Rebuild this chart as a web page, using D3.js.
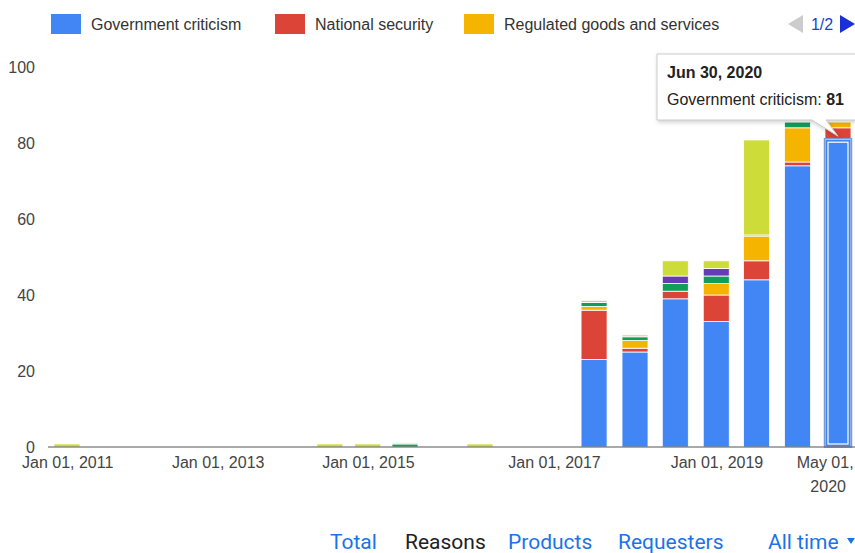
<!DOCTYPE html>
<html>
<head>
<meta charset="utf-8">
<script src="https://cdn.jsdelivr.net/npm/d3@7"></script>
<style>
  body { margin: 0; background: #fff; }
  svg { display: block; font-family: Arial, 'Liberation Sans', sans-serif; }
  .axis text { fill: #444; font-size: 16px; }
  .legend text { fill: #333; font-size: 16px; }
  .nav text { font-family: Roboto, Arial, sans-serif; font-size: 21px; }
</style>
</head>
<body>
<svg id="chart" width="855" height="553"></svg>
<script>
'use strict';

// Half-year reporting periods (end dates)
const periods = [
  '2010-12-31', '2011-06-30', '2011-12-31', '2012-06-30', '2012-12-31',
  '2013-06-30', '2013-12-31', '2014-06-30', '2014-12-31', '2015-06-30',
  '2015-12-31', '2016-06-30', '2016-12-31', '2017-06-30', '2017-12-31',
  '2018-06-30', '2018-12-31', '2019-06-30', '2019-12-31', '2020-06-30'
];

const seriesNames = [
  'Government criticism', 'National security', 'Regulated goods and services',
  'Privacy and security', 'Defamation', 'Other', 'Fraud'
];
const seriesColors = ['#4285F4', '#DB4437', '#F4B400', '#0F9D58', '#673AB7', '#CDDC39', '#D6C7A1'];

const governmentCriticism = [0, 0, 0, 0, 0, 0, 0, 0, 0, 0, 0, 0, 0, 23, 25, 39, 33, 44, 74, 81];
const nationalSecurity    = [0, 0, 0, 0, 0, 0, 0, 0, 0, 0, 0, 0, 0, 13, 1, 2, 7, 5, 1, 3];
const regulatedGoods      = [0, 0, 0, 0, 0, 0, 0, 0, 0, 0, 0, 0, 0, 1, 2, 0, 3, 6.5, 9, 1.5];
const privacySecurity     = [0, 0, 0, 0, 0, 0, 0, 0, 0, 0.8, 0, 0, 0, 1, 1, 2, 2, 0.3, 1.5, 0];
const defamation          = [0, 0, 0, 0, 0, 0, 0, 0, 0, 0, 0, 0, 0, 0, 0, 2, 2, 0, 0, 0];
const other               = [0.8, 0, 0, 0, 0, 0, 0, 0.8, 0.8, 0, 0, 0.8, 0, 0, 0, 4, 2, 25, 0, 0];
const fraud               = [0, 0, 0, 0, 0, 0, 0, 0, 0, 0.3, 0, 0, 0, 0.6, 0.5, 0, 0, 0, 0, 0];

const yTicks = [0, 20, 40, 60, 80, 100];
const xTickDates = ['2011-01-01', '2013-01-01', '2015-01-01', '2017-01-01', '2019-01-01', '2020-05-01'];
const xTickLabels = ['Jan 01, 2011', 'Jan 01, 2013', 'Jan 01, 2015', 'Jan 01, 2017', 'Jan 01, 2019', 'May 01,|2020'];

const navItems = ['Total', 'Reasons', 'Products', 'Requesters', 'All time'];
const selectedIndex = 19;

const parse = d3.utcParse('%Y-%m-%d');
const svg = d3.select('#chart');

const seriesValues = [governmentCriticism, nationalSecurity, regulatedGoods,
  privacySecurity, defamation, other, fraud];

const table = periods.map((p, i) => {
  const row = { date: parse(p), index: i };
  seriesNames.forEach((name, s) => { row[name] = seriesValues[s][i]; });
  return row;
});

// The time axis in the source is not evenly spaced, so use a piecewise domain
const x = d3.scaleUtc()
  .domain([parse('2010-12-31'), parse('2015-06-30'), parse('2016-06-30'),
    parse('2017-01-01'), parse('2020-06-30')])
  .range([67, 405, 480, 554, 838]);

const y = d3.scaleLinear().domain([0, 100]).range([447, 67]);

const barWidth = 26;
const stack = d3.stack().keys(seriesNames);
const stacked = stack(table);

// Bars
const layers = svg.append('g')
  .attr('class', 'bars')
  .selectAll('g')
  .data(stacked)
  .join('g')
    .attr('fill', (d, i) => seriesColors[i]);

layers.selectAll('rect')
  .data(d => d.filter(seg => seg[1] - seg[0] > 0))
  .join('rect')
    .attr('x', d => x(d.data.date) - barWidth / 2)
    .attr('y', d => y(d[1]))
    .attr('width', barWidth)
    .attr('height', d => y(d[0]) - y(d[1]))
    .attr('stroke', '#fff')
    .attr('stroke-width', 0.8);

// Highlight of the hovered bar
const sel = stacked[0][selectedIndex];
const hx = x(sel.data.date) - barWidth / 2;
svg.append('rect')
  .attr('x', hx - 0.5)
  .attr('y', y(sel[1]) - 0.5)
  .attr('width', barWidth + 1)
  .attr('height', y(sel[0]) - y(sel[1]) + 0.5)
  .attr('fill', 'none')
  .attr('stroke', '#7d9bd3')
  .attr('stroke-width', 1.5);
svg.append('rect')
  .attr('x', hx + 3)
  .attr('y', y(sel[1]) + 3)
  .attr('width', barWidth - 6)
  .attr('height', y(sel[0]) - y(sel[1]) - 6)
  .attr('fill', 'none')
  .attr('stroke', '#fff')
  .attr('stroke-width', 1.2);

// Baseline
svg.append('line')
  .attr('x1', 48).attr('x2', 855)
  .attr('y1', y(0)).attr('y2', y(0))
  .attr('stroke', '#555')
  .attr('stroke-width', 1.2);

// Y axis
const yAxis = svg.append('g')
  .attr('class', 'axis')
  .attr('transform', 'translate(38,0)')
  .call(d3.axisLeft(y).tickValues(yTicks).tickSize(0).tickPadding(3));
yAxis.select('.domain').remove();
yAxis.selectAll('text').attr('font-size', 16).attr('font-family', null);

// X axis
const xAxis = svg.append('g')
  .attr('class', 'axis')
  .attr('transform', `translate(0,${y(0)})`)
  .call(d3.axisBottom(x)
    .tickValues(xTickDates.map(parse))
    .tickSize(0)
    .tickPadding(10)
    .tickFormat((d, i) => xTickLabels[i]));
xAxis.select('.domain').remove();
xAxis.selectAll('text')
  .attr('font-size', 16)
  .attr('font-family', null)
  .each(function () {
    const t = d3.select(this);
    const parts = t.text().split('|');
    if (parts.length > 1) {
      t.text(null);
      parts.forEach((p, k) => {
        t.append('tspan')
          .attr('x', k === 0 ? 0 : 3)
          .attr('dy', k === 0 ? '0.71em' : '1.45em')
          .text(p);
      });
      t.attr('dy', null);
    }
  });

// Legend (first page)
const legend = svg.append('g').attr('class', 'legend');
const legendX = [51, 275, 464];
legend.selectAll('g')
  .data(seriesNames.slice(0, 3))
  .join('g')
    .attr('transform', (d, i) => `translate(${legendX[i]},14)`)
    .call(g => {
      g.append('rect')
        .attr('width', 30)
        .attr('height', 20)
        .attr('fill', (d, i) => seriesColors[i]);
      g.append('text')
        .attr('x', 40)
        .attr('y', 10)
        .attr('dy', '0.35em')
        .text(d => d);
    });

// Legend pager
svg.append('path')
  .attr('d', 'M803,15 L788,24 L803,33 Z')
  .attr('fill', '#ccc');
svg.append('text')
  .attr('x', 822).attr('y', 24).attr('dy', '0.35em')
  .attr('text-anchor', 'middle')
  .attr('font-size', 16)
  .attr('fill', '#1a3fd0')
  .text('1/2');
svg.append('path')
  .attr('d', 'M840,15 L855,24 L840,33 Z')
  .attr('fill', '#1a2fd8');

// Tooltip
const tip = svg.append('g').attr('class', 'tooltip');
const tipTop = 54, tipBottom = 120, tipLeft = 657;
const barTopX = x(sel.data.date) - 14;
tip.append('path')
  .attr('d', `M${tipLeft},${tipTop} H856 V${tipBottom} H${barTopX + 2} L${barTopX + 14},${y(sel[1]) - 3} L${barTopX - 12},${tipBottom} H${tipLeft} Z`)
  .attr('fill', '#fff')
  .attr('stroke', '#ccc')
  .attr('stroke-width', 1)
  .style('filter', 'drop-shadow(1px 2px 2px rgba(0,0,0,0.18))');
tip.append('text')
  .attr('x', 667).attr('y', 78)
  .attr('font-size', 16)
  .attr('font-weight', 'bold')
  .attr('fill', '#222')
  .text('Jun 30, 2020');
const tipLine = tip.append('text')
  .attr('x', 667).attr('y', 105)
  .attr('font-size', 16)
  .attr('fill', '#222');
tipLine.append('tspan').text(seriesNames[0] + ':  ');
tipLine.append('tspan')
  .attr('font-weight', 'bold')
  .text(d3.format('d')(governmentCriticism[selectedIndex]));

// Bottom navigation
const navX = [330, 405, 508, 618, 768];
svg.append('g')
  .attr('class', 'nav')
  .selectAll('text')
  .data(navItems)
  .join('text')
    .attr('x', (d, i) => navX[i])
    .attr('y', 549)
    .attr('fill', d => d === 'Reasons' ? '#202124' : '#1a73e8')
    .text(d => d);
svg.append('path')
  .attr('d', 'M847,538 L855,538 L851,544 Z')
  .attr('fill', '#1a73e8');
</script>
</body>
</html>
